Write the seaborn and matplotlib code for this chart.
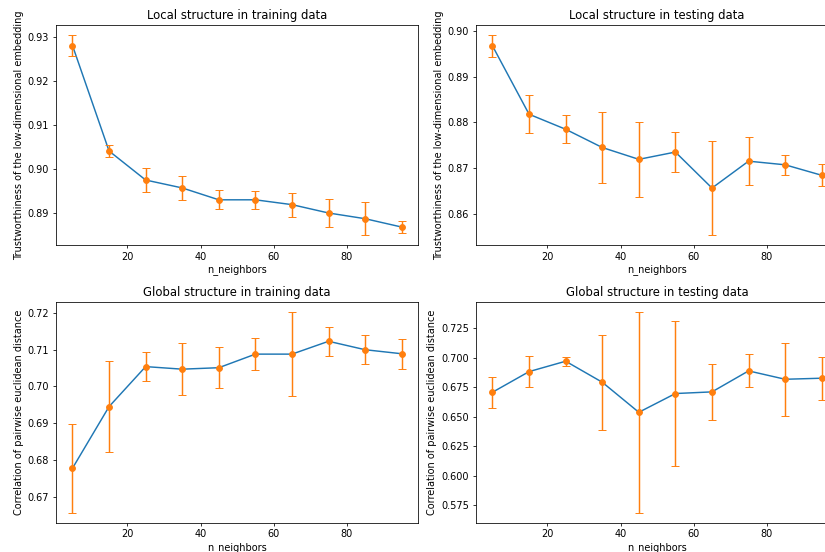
import numpy as np
import pandas as pd
import matplotlib
matplotlib.use("Agg")
import matplotlib.pyplot as plt
import seaborn as sns

n_neighbors = [5, 15, 25, 35, 45, 55, 65, 75, 85, 95]

# Trustworthiness (local structure)
local_train_mean = [0.9280, 0.9040, 0.8974, 0.8956, 0.8929, 0.8929, 0.8918, 0.8899, 0.8886, 0.8867]
local_train_err = [0.0024, 0.0014, 0.0028, 0.0027, 0.0022, 0.0020, 0.0027, 0.0031, 0.0037, 0.0014]
local_test_mean = [0.8968, 0.8818, 0.8785, 0.8745, 0.8719, 0.8735, 0.8656, 0.8715, 0.8707, 0.8684]
local_test_err = [0.0024, 0.0042, 0.0031, 0.0077, 0.0082, 0.0043, 0.0103, 0.0053, 0.0022, 0.0024]

# Correlation of pairwise distances (global structure)
global_train_mean = [0.6777, 0.6945, 0.7054, 0.7047, 0.7051, 0.7088, 0.7088, 0.7123, 0.7100, 0.7089]
global_train_err = [0.0121, 0.0123, 0.0039, 0.0071, 0.0056, 0.0044, 0.0115, 0.0039, 0.0039, 0.0041]
global_test_mean = [0.6706, 0.6881, 0.6969, 0.6791, 0.6536, 0.6695, 0.6709, 0.6887, 0.6816, 0.6825]
global_test_err = [0.0130, 0.0133, 0.0037, 0.0404, 0.0851, 0.0612, 0.0238, 0.0140, 0.0311, 0.0181]

titles = [
    "Local structure in training data",
    "Local structure in testing data",
    "Global structure in training data",
    "Global structure in testing data",
]
ylabels = [
    "Trustworthiness of the low-dimensional embedding",
    "Trustworthiness of the low-dimensional embedding",
    "Correlation of pairwise euclidean distance",
    "Correlation of pairwise euclidean distance",
]
means = [local_train_mean, local_test_mean, global_train_mean, global_test_mean]
errs = [local_train_err, local_test_err, global_train_err, global_test_err]

DPI = 70
fig = plt.figure(figsize=(825 / DPI, 552 / DPI), dpi=DPI)
rects = [
    [0.0679, 0.5562, 0.4390, 0.3986],
    [0.5770, 0.5562, 0.4390, 0.3986],
    [0.0679, 0.0531, 0.4390, 0.4000],
    [0.5770, 0.0531, 0.4390, 0.4000],
]

for rect, title, ylabel, m, e in zip(rects, titles, ylabels, means, errs):
    ax = fig.add_axes(rect)
    df = pd.DataFrame({"n_neighbors": n_neighbors, "score": m})
    sns.lineplot(data=df, x="n_neighbors", y="score", ax=ax, color="C0")
    ax.errorbar(n_neighbors, m, yerr=e, fmt="o", color="C1", capsize=4)
    ax.set_title(title)
    ax.set_xlabel("n_neighbors", labelpad=2.5)
    ax.set_ylabel(ylabel)

fig.savefig("out.png", dpi=DPI)
